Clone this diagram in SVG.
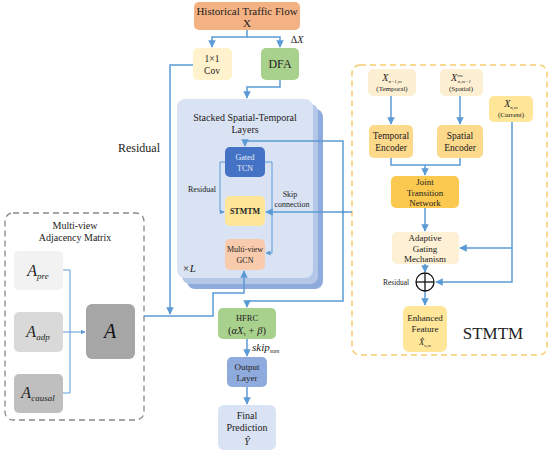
<svg xmlns="http://www.w3.org/2000/svg" width="550" height="454" viewBox="0 0 550 454" font-family="'Liberation Serif', serif">
<defs>
<marker id="ah" viewBox="0 0 10 10" refX="9" refY="5" markerWidth="5" markerHeight="5" orient="auto"><path d="M0,0 L10,5 L0,10 z" fill="#5b9bd5"/></marker>
<style>
text{font-family:'Liberation Serif',serif;fill:#222;text-anchor:middle}
.ln{fill:none;stroke:#5b9bd5;stroke-width:1.5}
.lt{fill:none;stroke:#5b9bd5;stroke-width:1}
.it{font-style:italic}
</style>
</defs>
<rect width="550" height="454" fill="#fff"/>

<g id="stmtm-module">
<rect x="352" y="65" width="195" height="290" rx="8" fill="#fff" stroke="#f7cd6f" stroke-width="1.5" stroke-dasharray="6,4"/>
<text x="493" y="339" font-size="17">STMTM</text>
</g>
<g id="adj-module">
<rect x="5" y="213" width="139" height="207" rx="8" fill="#fff" stroke="#888" stroke-width="1.3" stroke-dasharray="6,4"/>
<text x="75" y="229" font-size="10">Multi-view</text>
<text x="75" y="241" font-size="10">Adjacency Matrix</text>
</g>
<g id="stack">
<rect x="187" y="109" width="136" height="180" rx="8" fill="#8faadc"/>
<rect x="182" y="104" width="136" height="180" rx="8" fill="#b4c7e7"/>
<rect x="177" y="99" width="136" height="179" rx="8" fill="#dae3f3"/>
<text x="245" y="121" font-size="10">Stacked Spatial-Temporal</text>
<text x="245" y="133" font-size="10">Layers</text>
<text x="189" y="272" font-size="11" class="it">×L</text>
</g>

<g id="connectors">
<polyline class="ln" points="247,30 247,37 212,37 212,47" marker-end="url(#ah)"/>
<polyline class="ln" points="247,37 280,37 280,47" marker-end="url(#ah)"/>
<polyline class="ln" points="280,80 280,87 247,87 247,98" marker-end="url(#ah)"/>
<polyline class="ln" points="193,65 170,65 170,314" marker-end="url(#ah)"/>
<polyline class="ln" points="144,316 213,316 213,293 244,293 244,271" marker-end="url(#ah)"/>
<polyline class="ln" points="245,141 343,141 343,301 247,301 247,307" marker-end="url(#ah)"/>
<line class="ln" x1="245" y1="141" x2="245" y2="146" marker-end="url(#ah)"/>
<polyline class="ln" points="352,212 266,212" marker-end="url(#ah)"/>
<circle cx="343" cy="212" r="1.5" fill="#5b9bd5"/>
<polyline class="lt" points="225,162 220,162 220,212 224,212" marker-end="url(#ah)"/>
<polyline class="lt" points="265,162 272,162 272,253 266,253" marker-end="url(#ah)"/>
<line class="ln" x1="247" y1="339" x2="247" y2="356" marker-end="url(#ah)"/>
<line class="ln" x1="247" y1="387" x2="247" y2="404" marker-end="url(#ah)"/>
<line class="ln" x1="391" y1="96" x2="391" y2="124" marker-end="url(#ah)"/>
<line class="ln" x1="460" y1="96" x2="460" y2="124" marker-end="url(#ah)"/>
<polyline class="ln" points="391,158 391,165 460,165 460,158"/>
<line class="ln" x1="425" y1="165" x2="425" y2="175" marker-end="url(#ah)"/>
<line class="ln" x1="425" y1="208" x2="425" y2="231" marker-end="url(#ah)"/>
<line class="ln" x1="425" y1="264" x2="425" y2="272" marker-end="url(#ah)"/>
<line class="ln" x1="425" y1="291" x2="425" y2="305" marker-end="url(#ah)"/>
<polyline class="ln" points="512,122 512,282 436,282" marker-end="url(#ah)"/>
<polyline class="ln" points="512,248 460,248" marker-end="url(#ah)"/>
<polyline class="lt" points="63,270 70,270 70,393 63,393"/>
<line class="lt" x1="63" y1="332" x2="85" y2="332" marker-end="url(#ah)"/>
</g>

<g id="input">
<rect x="194" y="2" width="106" height="28" rx="5" fill="#f4b183"/>
<text x="247" y="15" font-size="11">Historical Traffic Flow</text>
<text x="247" y="27" font-size="11">X</text>
</g>
<g id="cov">
<rect x="193" y="48" width="39" height="32" rx="5" fill="#fff2cc"/>
<text x="212" y="62" font-size="9.5">1×1</text>
<text x="212" y="74" font-size="9.5">Cov</text>
</g>
<g id="dfa">
<rect x="261" y="48" width="38" height="32" rx="5" fill="#a9d18e"/>
<text x="280" y="68" font-size="12">DFA</text>
<text x="297" y="43" font-size="10">Δ<tspan class="it">X</tspan></text>
</g>
<g id="gated-tcn">
<rect x="225" y="147" width="40" height="30" rx="5" fill="#4472c4"/>
<text x="245" y="160" font-size="8" style="fill:#e8ecf8">Gated</text>
<text x="245" y="171" font-size="8" style="fill:#e8ecf8">TCN</text>
</g>
<g id="stmtm-inner">
<rect x="225" y="196" width="40" height="30" rx="5" fill="#ffe699"/>
<text x="245" y="214" font-size="8" font-weight="bold">STMTM</text>
</g>
<g id="gcn">
<rect x="225" y="239" width="40" height="31" rx="5" fill="#f8cbad"/>
<text x="245" y="252" font-size="8">Multi-view</text>
<text x="245" y="263" font-size="8">GCN</text>
</g>
<g id="labels">
<text x="202" y="192" font-size="8">Residual</text>
<text x="290" y="197" font-size="8">Skip</text>
<text x="292" y="207" font-size="8">connection</text>
<text x="139" y="152" font-size="12">Residual</text>
<text x="396" y="285" font-size="7.5">Residual</text>
<text x="252" y="351" font-size="11" class="it" style="text-anchor:start">skip<tspan font-size="6" dy="2">sum</tspan></text>
</g>
<g id="hfrc">
<rect x="218" y="308" width="58" height="31" rx="5" fill="#a9d18e"/>
<text x="247" y="321" font-size="8.5">HFRC</text>
<text x="247" y="334" font-size="10.5">(<tspan class="it">αX</tspan><tspan font-size="6" dy="2">τ</tspan><tspan dy="-2"> + </tspan><tspan class="it">β</tspan>)</text>
</g>
<g id="output-layer">
<rect x="227" y="357" width="40" height="30" rx="5" fill="#8faadc"/>
<text x="247" y="370" font-size="9">Output</text>
<text x="247" y="381" font-size="9">Layer</text>
</g>
<g id="prediction">
<rect x="218" y="405" width="58" height="45" rx="6" fill="#dae3f3"/>
<text x="247" y="419" font-size="10">Final</text>
<text x="247" y="431" font-size="10">Prediction</text>
<text x="247" y="445" font-size="10" class="it">Ŷ</text>
</g>
<g id="x-temporal">
<rect x="368" y="69" width="48" height="27" rx="5" fill="#fdefd2"/>
<text x="392" y="81" font-size="10" class="it">X<tspan font-size="5" dy="2">n−1,m</tspan></text>
<text x="392" y="91" font-size="7">(Temporal)</text>
</g>
<g id="x-spatial">
<rect x="440" y="69" width="43" height="27" rx="5" fill="#fdefd2"/>
<text x="461" y="81" font-size="10" class="it">X<tspan font-size="5" dy="-4">rm</tspan><tspan font-size="5" dx="-5" dy="6">n,m−1</tspan></text>
<text x="461" y="91" font-size="7">(Spatial)</text>
</g>
<g id="x-current">
<rect x="489" y="96" width="44" height="26" rx="5" fill="#ffe699"/>
<text x="511" y="107" font-size="10" class="it">X<tspan font-size="5" dy="2">n,m</tspan></text>
<text x="511" y="117" font-size="7">(Current)</text>
</g>
<g id="temporal-encoder">
<rect x="369" y="125" width="44" height="33" rx="5" fill="#fdd98c"/>
<text x="391" y="139" font-size="9.5">Temporal</text>
<text x="391" y="151" font-size="9.5">Encoder</text>
</g>
<g id="spatial-encoder">
<rect x="437" y="125" width="46" height="33" rx="5" fill="#fdd98c"/>
<text x="460" y="139" font-size="9.5">Spatial</text>
<text x="460" y="151" font-size="9.5">Encoder</text>
</g>
<g id="jtn">
<rect x="391" y="176" width="68" height="32" rx="5" fill="#fbc94f"/>
<text x="425" y="185" font-size="9">Joint</text>
<text x="425" y="195.5" font-size="9">Transition</text>
<text x="425" y="206" font-size="9">Network</text>
</g>
<g id="agm">
<rect x="392" y="232" width="67" height="32" rx="5" fill="#fdf0d5"/>
<text x="425" y="241" font-size="9">Adaptive</text>
<text x="425" y="251.5" font-size="9">Gating</text>
<text x="425" y="262" font-size="9">Mechanism</text>
</g>
<g id="sum">
<circle cx="425" cy="282" r="9" fill="#fff" stroke="#111" stroke-width="1.3"/>
<line x1="416" y1="282" x2="434" y2="282" stroke="#111" stroke-width="1.3"/>
<line x1="425" y1="273" x2="425" y2="291" stroke="#111" stroke-width="1.3"/>
</g>
<g id="enhanced">
<rect x="403" y="306" width="44" height="46" rx="6" fill="#ffe699"/>
<text x="425" y="321" font-size="9">Enhanced</text>
<text x="425" y="332" font-size="9">Feature</text>
<text x="425" y="345" font-size="8.5" class="it">X̂<tspan font-size="4.5" dy="2">n,m</tspan></text>
</g>
<g id="a-pre">
<rect x="14" y="251" width="49" height="39" rx="5" fill="#f2f2f2"/>
<text x="38" y="276" font-size="16" class="it">A<tspan font-size="9" dy="3">pre</tspan></text>
</g>
<g id="a-adp">
<rect x="14" y="312" width="49" height="40" rx="5" fill="#d9d9d9"/>
<text x="38" y="337" font-size="16" class="it">A<tspan font-size="9" dy="3">adp</tspan></text>
</g>
<g id="a-causal">
<rect x="14" y="374" width="49" height="39" rx="5" fill="#bfbfbf"/>
<text x="38" y="398" font-size="16" class="it">A<tspan font-size="9" dy="3">causal</tspan></text>
</g>
<g id="a-fused">
<rect x="86" y="304" width="49" height="55" rx="6" fill="#a6a6a6"/>
<text x="110" y="338" font-size="20" class="it" style="fill:#111">A</text>
</g>
</svg>
